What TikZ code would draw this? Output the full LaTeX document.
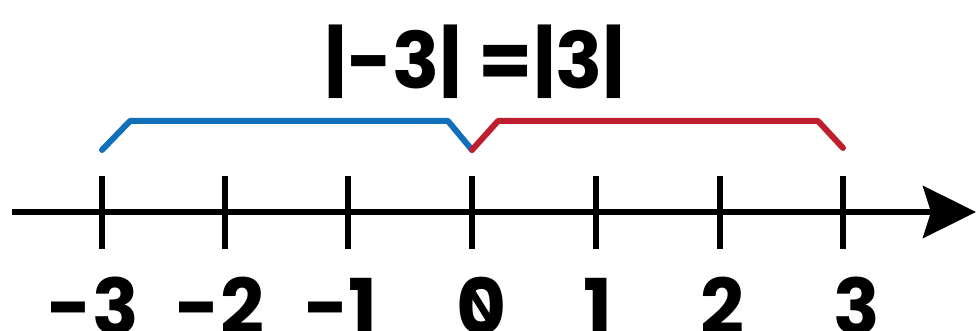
\documentclass[tikz,border=0pt]{standalone}
\usepackage{fontspec}
\setmainfont{Poppins}
\usetikzlibrary{arrows.meta}
\definecolor{bblue}{HTML}{1071BA}
\definecolor{bred}{HTML}{BE1E2D}
\begin{document}
\begin{tikzpicture}[x=1pt,y=-1pt,
  axisline/.style={line width=6pt},
  tickmark/.style={line width=6pt},
  bracket/.style={line width=6pt, line cap=round, line join=round},
  lab/.style={font=\bfseries\fontsize{77}{77}\selectfont, anchor=base, inner sep=0pt},
  ttl/.style={font=\bfseries\fontsize{78}{78}\selectfont, anchor=base, inner sep=0pt}]
\useasboundingbox (0,0) rectangle (976,331);
\clip (0,0) rectangle (976,331);
% axis
\coordinate (start) at (12,212);
\coordinate (end) at (976,212);
\draw[axisline, -{Stealth[length=53pt,width=52pt,inset=8pt]}] (start) -- (end);
% ticks
\foreach \n/\x in {m3/102, m2/225, m1/348, z/472, p1/596, p2/720, p3/843}{
  \coordinate (t\n) at (\x,212);
  \draw[tickmark] (t\n) ++(0,-36) -- ++(0,73);
}
% brackets
\coordinate (b0) at (102,150);
\coordinate (b1) at (130,121);
\coordinate (b2) at (448,121);
\coordinate (mid) at (472,150);
\coordinate (r1) at (498,121);
\coordinate (r2) at (818,121);
\coordinate (r3) at (843,148);
\draw[bracket, bblue] (b0) -- (b1) -- (b2) -- (mid);
\draw[bracket, bred] (mid) -- (r1) -- (r2) -- (r3);
% title
\node[ttl] (title) at (475,89) {|-3| =|3|};
% labels
\node[lab] (lm3) at (93,334) {-3};
\node[lab] (lm2) at (220,334) {-2};
\node[lab] (lm1) at (341,334) {-1};
\node[lab] (lz) at (482,334) {0};
\node[lab] (lp1) at (598,334) {1};
\node[lab] (lp2) at (722,334) {2};
\node[lab] (lp3) at (857,334) {3};
\draw[line width=7pt] ([xshift=-10pt,yshift=42pt]lz.base) -- ([xshift=10pt,yshift=10pt]lz.base);
\end{tikzpicture}
\end{document}
